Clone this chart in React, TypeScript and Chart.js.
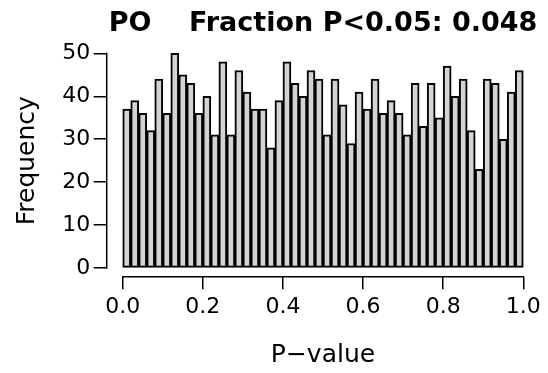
import React, { useEffect, useRef } from "react";
import { Chart, registerables } from "chart.js";

Chart.register(...registerables);

// Histogram of p-values: 50 bins of width 0.02 on [0, 1]
const binWidth = 0.02;
const counts = [
  37, 39, 36, 32, 44, 36, 50, 45, 43, 36,
  40, 31, 48, 31, 46, 41, 37, 37, 28, 39,
  48, 43, 40, 46, 44, 31, 44, 38, 29, 41,
  37, 44, 36, 39, 36, 31, 43, 33, 43, 35,
  47, 40, 44, 32, 23, 44, 43, 30, 41, 46,
];
const xTicks = [0, 0.2, 0.4, 0.6, 0.8, 1.0];
const xTickLabels = ["0.0", "0.2", "0.4", "0.6", "0.8", "1.0"];
const yTicks = [0, 10, 20, 30, 40, 50];
const yTickLabels = ["0", "10", "20", "30", "40", "50"];
const titleText = "PO    Fraction P<0.05: 0.048";
const xTitle = "P\u2212value";
const yTitle = "Frequency";

const FONT = "DejaVu Sans";

const axisLines = {
  id: "axisLines",
  afterDraw(chart: any) {
    const { ctx, chartArea, scales } = chart;
    const xs = scales.x;
    const ys = scales.y;
    ctx.save();
    ctx.strokeStyle = "#000";
    ctx.lineWidth = 1.5;
    ctx.lineCap = "square";
    ctx.beginPath();
    ctx.moveTo(chartArea.left, ys.getPixelForValue(yTicks[0]));
    ctx.lineTo(chartArea.left, ys.getPixelForValue(yTicks[yTicks.length - 1]));
    ctx.moveTo(xs.getPixelForValue(xTicks[0]), chartArea.bottom);
    ctx.lineTo(xs.getPixelForValue(xTicks[xTicks.length - 1]), chartArea.bottom);
    ctx.stroke();
    ctx.restore();
  },
};

export default function App() {
  const ref = useRef<HTMLCanvasElement | null>(null);
  useEffect(() => {
    document.body.style.margin = "0";
    const canvas = ref.current;
    if (!canvas) return;
    const data = counts.map((c, i) => ({ x: (i + 0.5) * binWidth, y: c }));
    const chart = new Chart(canvas, {
      type: "bar",
      data: {
        datasets: [
          {
            data,
            backgroundColor: "#D3D3D3",
            borderColor: "#000000",
            borderWidth: 2,
            borderSkipped: false,
            barPercentage: 1,
            categoryPercentage: 1,
          } as any,
        ],
      },
      plugins: [axisLines],
      options: {
        responsive: false,
        animation: false,
        devicePixelRatio: 1,
        layout: { padding: { left: 0, right: 8.7, top: 0, bottom: 0 } },
        plugins: {
          legend: { display: false },
          tooltip: { enabled: false },
          title: {
            display: true,
            text: titleText,
            color: "#000",
            fullSize: false,
            font: { family: FONT, size: 27, weight: "bold" },
            padding: { top: 8.2, bottom: 4.1 },
          } as any,
        },
        scales: {
          x: {
            type: "linear",
            offset: false,
            min: -0.04,
            max: 1.04,
            afterBuildTicks: (axis: any) => {
              axis.ticks = xTicks.map((v) => ({ value: v }));
            },
            afterFit: (scale: any) => {
              scale.height = 96.3;
              scale.paddingLeft = 0;
              scale.paddingRight = 0;
            },
            ticks: {
              callback: (_v: any, i: number) => xTickLabels[i],
              color: "#000",
              font: { family: FONT, size: 22 },
              padding: 5,
              maxRotation: 0,
              autoSkip: false,
            },
            grid: {
              offset: false,
              drawOnChartArea: false,
              drawTicks: true,
              tickLength: 12.5,
              color: "#000",
              lineWidth: 1.5,
            },
            border: { display: false },
            title: {
              display: true,
              text: xTitle,
              color: "#000",
              font: { family: FONT, size: 25 },
              padding: { top: 0, bottom: 2.5 },
            },
          },
          y: {
            type: "linear",
            min: -2,
            max: 52,
            afterBuildTicks: (axis: any) => {
              axis.ticks = yTicks.map((v) => ({ value: v }));
            },
            afterFit: (scale: any) => {
              scale.width = 106.7;
              scale.paddingTop = 0;
              scale.paddingBottom = 0;
            },
            ticks: {
              callback: (_v: any, i: number) => yTickLabels[i],
              color: "#000",
              font: { family: FONT, size: 22 },
              padding: 3.5,
              autoSkip: false,
            },
            grid: {
              drawOnChartArea: false,
              drawTicks: true,
              tickLength: 13,
              color: "#000",
              lineWidth: 1.5,
            },
            border: { display: false },
            title: {
              display: true,
              text: yTitle,
              color: "#000",
              font: { family: FONT, size: 25 },
              padding: { top: 12, bottom: 0 },
            },
          },
        },
      } as any,
    });
    return () => chart.destroy();
  }, []);
  return (
    <div style={{ width: 548, height: 373 }}>
      <canvas ref={ref} width={548} height={373} style={{ display: "block" }} />
    </div>
  );
}
